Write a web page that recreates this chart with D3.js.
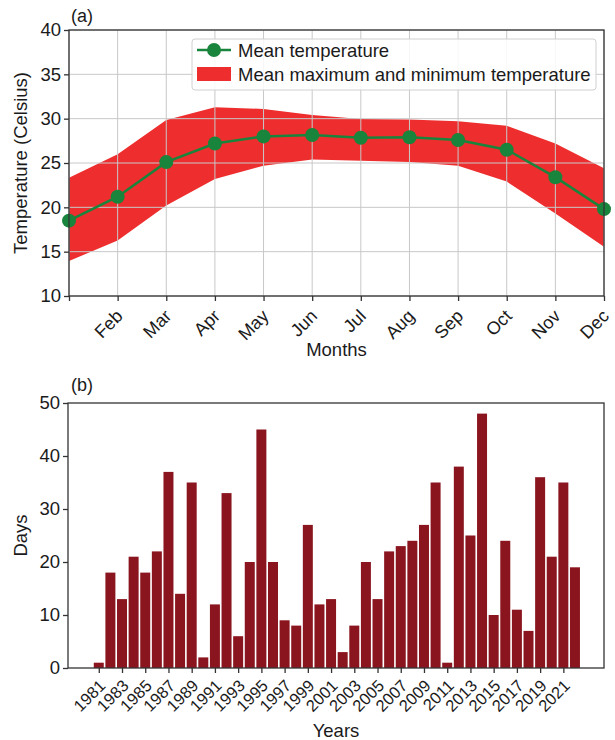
<!DOCTYPE html>
<html>
<head>
<meta charset="utf-8">
<title>temperature and days</title>
<script src="https://cdn.jsdelivr.net/npm/d3@7"></script>
<style>
  body { margin:0; background:#fff; font-family:"Liberation Sans", Arial, sans-serif; }
  svg text { fill:#1a1a1a; }
</style>
</head>
<body>
<div id="chart"></div>
<script>
// panel (a) data
var months = ["Jan","Feb","Mar","Apr","May","Jun","Jul","Aug","Sep","Oct","Nov","Dec"];
var meanTemp = [18.5, 21.2, 25.1, 27.2, 28.0, 28.15, 27.85, 27.9, 27.6, 26.5, 23.4, 19.8];
var maxTemp  = [23.35, 26.0, 29.85, 31.3, 31.1, 30.4, 29.95, 29.9, 29.7, 29.2, 27.2, 24.4];
var minTemp  = [13.95, 16.25, 20.2, 23.2, 24.7, 25.4, 25.25, 25.1, 24.7, 22.9, 19.3, 15.55];
var tempTicks = [10, 15, 20, 25, 30, 35, 40];

// panel (b) data
var years = d3.range(1981, 2023);
var days = [1, 18, 13, 21, 18, 22, 37, 14, 35, 2, 12, 33, 6, 20, 45, 20, 9, 8, 27, 12,
            13, 3, 8, 20, 13, 22, 23, 24, 27, 35, 1, 38, 25, 48, 10, 24, 11, 7, 36, 21, 35, 19];
var yearTicks = d3.range(1981, 2022, 2);
var dayTicks = [0, 10, 20, 30, 40, 50];

var W = 615, H = 740;
var FONT = "Liberation Sans, Arial, sans-serif";
var svg = d3.select("#chart").append("svg").attr("width", W).attr("height", H);

var green = "#19843c", red = "#ee2e2e", bar = "#8a151f", frame = "#333";

// ---------- panel (a) ----------
var a = {left:69, right:604, top:30, bottom:296};
var xA = d3.scaleLinear().domain([0, 11]).range([a.left, a.right]);
var yA = d3.scaleLinear().domain([10, 40]).range([a.bottom, a.top]);

var gA = svg.append("g");

// band
var area = d3.area()
  .x(function(d, i){ return xA(i); })
  .y0(function(d, i){ return yA(minTemp[i]); })
  .y1(function(d){ return yA(d); });
gA.append("path").datum(maxTemp).attr("d", area).attr("fill", red);

// grid drawn over the band
gA.selectAll(".vg").data(months).enter().append("line")
  .attr("x1", function(d, i){ return xA(i); }).attr("x2", function(d, i){ return xA(i); })
  .attr("y1", a.top).attr("y2", a.bottom)
  .attr("stroke", "#c8c8c8").attr("stroke-width", 1);
gA.selectAll(".hg").data(tempTicks).enter().append("line")
  .attr("x1", a.left).attr("x2", a.right)
  .attr("y1", function(d){ return yA(d); }).attr("y2", function(d){ return yA(d); })
  .attr("stroke", "#c8c8c8").attr("stroke-width", 1);

// mean line
var line = d3.line().x(function(d, i){ return xA(i); }).y(function(d){ return yA(d); });
gA.append("path").datum(meanTemp).attr("d", line)
  .attr("fill", "none").attr("stroke", green).attr("stroke-width", 2.5);
gA.selectAll(".dot").data(meanTemp).enter().append("circle")
  .attr("cx", function(d, i){ return xA(i); })
  .attr("cy", function(d){ return yA(d); })
  .attr("r", 7).attr("fill", green);

// frame
gA.append("rect").attr("x", a.left).attr("y", a.top)
  .attr("width", a.right - a.left).attr("height", a.bottom - a.top)
  .attr("fill", "none").attr("stroke", frame).attr("stroke-width", 1.3);

// y axis
var yAxisA = d3.axisLeft(yA).tickValues(tempTicks).tickSize(5).tickPadding(3);
var gy = gA.append("g").attr("transform", "translate(" + a.left + ",0)").call(yAxisA);
gy.select(".domain").remove();
gy.selectAll("line").attr("stroke", frame).attr("stroke-width", 1.3);
gy.selectAll("text").attr("font-size", 18.5).attr("font-family", FONT).attr("fill", "#1a1a1a");

// x axis, labels rotated 45 deg
var xAxisA = d3.axisBottom(xA).tickValues(d3.range(12)).tickSize(5)
  .tickFormat(function(i){ return i === 0 ? "" : months[i]; });
var gx = gA.append("g").attr("transform", "translate(0," + a.bottom + ")").call(xAxisA);
gx.select(".domain").remove();
gx.selectAll("line").attr("stroke", frame).attr("stroke-width", 1.3);
gx.selectAll("text")
  .attr("font-size", 18).attr("font-family", FONT).attr("fill", "#1a1a1a")
  .attr("text-anchor", "end").attr("dy", null).attr("y", 0)
  .attr("dominant-baseline", "central")
  .attr("transform", "translate(1.5,17) rotate(-45)");

gA.append("text").attr("x", 71).attr("y", 22).attr("font-size", 18).text("(a)");
gA.append("text").attr("x", (a.left + a.right) / 2).attr("y", 356)
  .attr("text-anchor", "middle").attr("font-size", 18.5).text("Months");
gA.append("text").attr("transform", "translate(27," + ((a.top + a.bottom) / 2) + ") rotate(-90)")
  .attr("text-anchor", "middle").attr("font-size", 18.5).text("Temperature (Celsius)");

// legend
var lg = gA.append("g").attr("transform", "translate(192,39)");
lg.append("rect").attr("width", 404).attr("height", 51).attr("rx", 3)
  .attr("fill", "#fff").attr("fill-opacity", 0.85).attr("stroke", "#d0d0d0");
lg.append("line").attr("x1", 5).attr("x2", 39).attr("y1", 11).attr("y2", 11)
  .attr("stroke", green).attr("stroke-width", 2.5);
lg.append("circle").attr("cx", 22).attr("cy", 11).attr("r", 7).attr("fill", green);
lg.append("rect").attr("x", 5).attr("y", 28).attr("width", 34).attr("height", 14).attr("fill", red);
lg.append("text").attr("x", 46).attr("y", 17.5).attr("font-size", 18.5).text("Mean temperature");
lg.append("text").attr("x", 46).attr("y", 41.5).attr("font-size", 18.5).text("Mean maximum and minimum temperature");

// ---------- panel (b) ----------
var b = {left:68, right:604, top:403, bottom:668};
var xB = d3.scaleLinear().domain([1978.35, 2024.5]).range([b.left, b.right]);
var yB = d3.scaleLinear().domain([0, 50]).range([b.bottom, b.top]);
var bw = 0.86;

var gB = svg.append("g");
gB.selectAll(".bar").data(days).enter().append("rect")
  .attr("x", function(d, i){ return xB(years[i] - bw / 2); })
  .attr("width", function(){ return xB(bw) - xB(0); })
  .attr("y", function(d){ return yB(d); })
  .attr("height", function(d){ return yB(0) - yB(d); })
  .attr("fill", bar);

gB.append("rect").attr("x", b.left).attr("y", b.top)
  .attr("width", b.right - b.left).attr("height", b.bottom - b.top)
  .attr("fill", "none").attr("stroke", frame).attr("stroke-width", 1.3);

var yAxisB = d3.axisLeft(yB).tickValues(dayTicks).tickSize(5).tickPadding(3);
var gyb = gB.append("g").attr("transform", "translate(" + b.left + ",0)").call(yAxisB);
gyb.select(".domain").remove();
gyb.selectAll("line").attr("stroke", frame).attr("stroke-width", 1.3);
gyb.selectAll("text").attr("font-size", 18.5).attr("font-family", FONT).attr("fill", "#1a1a1a");

var xAxisB = d3.axisBottom(xB).tickValues(yearTicks).tickSize(5).tickFormat(d3.format("d"));
var gxb = gB.append("g").attr("transform", "translate(0," + b.bottom + ")").call(xAxisB);
gxb.select(".domain").remove();
gxb.selectAll("line").attr("stroke", frame).attr("stroke-width", 1.3);
gxb.selectAll("text")
  .attr("font-size", 16.5).attr("font-family", FONT).attr("fill", "#1a1a1a")
  .attr("text-anchor", "end").attr("dy", null).attr("y", 0)
  .attr("dominant-baseline", "central")
  .attr("transform", "translate(3,14.5) rotate(-45)");

gB.append("text").attr("x", 71).attr("y", 391).attr("font-size", 18).text("(b)");
gB.append("text").attr("x", (b.left + b.right) / 2).attr("y", 737)
  .attr("text-anchor", "middle").attr("font-size", 18.5).text("Years");
gB.append("text").attr("transform", "translate(27," + ((b.top + b.bottom) / 2) + ") rotate(-90)")
  .attr("text-anchor", "middle").attr("font-size", 18.5).text("Days");
</script>
</body>
</html>
